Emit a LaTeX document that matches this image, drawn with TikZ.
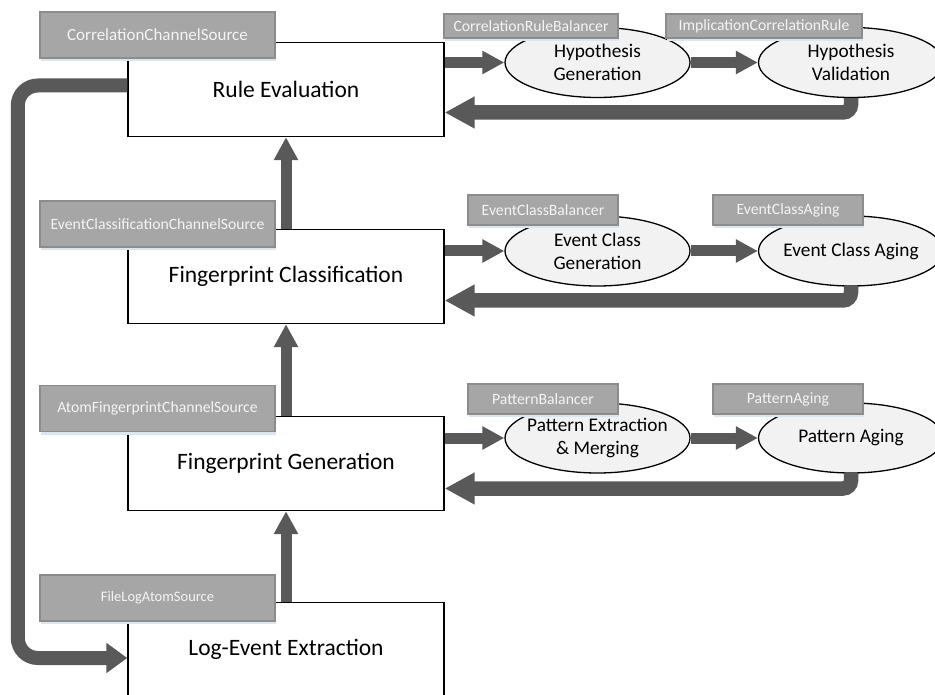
\documentclass[tikz,border=0pt]{standalone}
\usepackage{fontspec}
\setmainfont{Carlito}
\usetikzlibrary{arrows.meta,shapes.geometric,calc,shadows}
\definecolor{arrowc}{HTML}{595959}
\definecolor{lblfill}{HTML}{A6A6A6}
\definecolor{lbldraw}{HTML}{8C8C8C}
\definecolor{lbltext}{HTML}{F4F4F4}
\definecolor{ellfill}{HTML}{F2F2F2}
\definecolor{shadowc}{HTML}{DCE6F2}
\tikzset{
  procbox/.style={rectangle, draw=black, line width=1.4pt, fill=white, minimum width=316pt, minimum height=94pt, inner sep=0pt, font=\fontsize{23.5}{28}\selectfont},
  procell/.style={ellipse, draw=black, line width=1.3pt, fill=ellfill, minimum width=185pt, minimum height=70pt, inner sep=0pt},
  elltext/.style={align=center, inner sep=0pt, font=\fontsize{19.3}{23}\selectfont},
  lbl/.style={rectangle, draw=lbldraw, line width=1.5pt, fill=lblfill, text=lbltext, inner sep=0pt, font=\fontsize{15.7}{18}\selectfont, drop shadow={shadow xshift=0.5pt, shadow yshift=-3pt, fill=shadowc, opacity=1}},
  leftlbl/.style={lbl, minimum width=235pt, minimum height=46pt},
  rowlbl/.style={lbl, minimum width=150pt, minimum height=30pt},
  fwd/.style={draw=arrowc, line width=11pt, -{Triangle[length=22pt,width=22pt]}, arrowc},
  upar/.style={draw=arrowc, line width=11pt, -{Triangle[length=23pt,width=23pt]}, arrowc},
  retar/.style={draw=arrowc, line width=14.5pt, rounded corners=8pt, -{Triangle[length=30pt,width=30pt]}, arrowc},
  loopar/.style={draw=arrowc, line width=14pt, rounded corners=20pt, -{Triangle[length=21pt,width=29pt]}, arrowc}
}
\begin{document}
\begin{tikzpicture}[x=1pt,y=-1pt]
\useasboundingbox (0,0) rectangle (935,695);
% main boxes
\node[procbox] (re) at (286,89.5) {Rule Evaluation};
\node[procbox] (fc) at (286,276.5) {Fingerprint Classification};
\node[procbox] (fg) at (286,463.5) {Fingerprint Generation};
\node[procbox] (le) at (286,649.5) {Log-Event Extraction};
% ellipses
\node[procell] (hg) at (597.5,62.5) {};
\node[elltext] (hgt) at (hg) {Hypothesis\\Generation};
\node[procell] (hv) at (851,62.5) {};
\node[elltext] (hvt) at (hv) {Hypothesis\\Validation};
\node[procell] (eg) at (597.5,251) {};
\node[elltext] (egt) at (eg) {Event Class\\Generation};
\node[procell] (ea) at (851,251) {};
\node[elltext] (eat) at (ea) {Event Class Aging};
\node[procell] (pe) at (597.5,438) {};
\node[elltext] (pet) at (pe) {Pattern Extraction\\\& Merging};
\node[procell] (pa) at (851,438) {};
\node[elltext] (pat) at (pa) {Pattern Aging};
% vertical arrows
\draw[upar] (le.north) -- (fg.south);
\draw[upar] (fg.north) -- (fc.south);
\draw[upar] (fc.north) -- (re.south);
% forward arrows
\draw[fwd] (re.east |- hg.west) -- (hg.west);
\draw[fwd] (hg.east) -- (hv.west);
\draw[fwd] (fc.east |- eg.west) -- (eg.west);
\draw[fwd] (eg.east) -- (ea.west);
\draw[fwd] (fg.east |- pe.west) -- (pe.west);
\draw[fwd] (pe.east) -- (pa.west);
% return arrows
\draw[retar] (hv.south) |- ($(re.east)+(0,23)$);
\draw[retar] (ea.south) |- ($(fc.east)+(0,24)$);
\draw[retar] (pa.south) |- ($(fg.east)+(0,25)$);
% loop
\draw[loopar] ($(re.west)+(0,-4)$) -- ++(-109.5,0) |- ($(le.west)+(0,8.5)$);
% labels
\node[leftlbl, font=\fontsize{17}{20}\selectfont] (l1) at (157.5,35) {CorrelationChannelSource};
\node[leftlbl] (l2) at (157.5,224) {EventClassificationChannelSource};
\node[leftlbl] (l3) at (157.5,408.5) {AtomFingerprintChannelSource};
\node[leftlbl, font=\fontsize{14.5}{17}\selectfont] (l4) at (157.5,598) {FileLogAtomSource};
\node[rowlbl, minimum width=174pt, minimum height=24pt] (r1a) at (531,26) {CorrelationRuleBalancer};
\node[rowlbl, minimum width=196pt, minimum height=24pt] (r1b) at (764,26) {ImplicationCorrelationRule};
\node[rowlbl] (r2a) at (543,210) {EventClassBalancer};
\node[rowlbl] (r2b) at (788,210) {EventClassAging};
\node[rowlbl] (r3a) at (543,399) {PatternBalancer};
\node[rowlbl] (r3b) at (788,399) {PatternAging};
\end{tikzpicture}
\end{document}
